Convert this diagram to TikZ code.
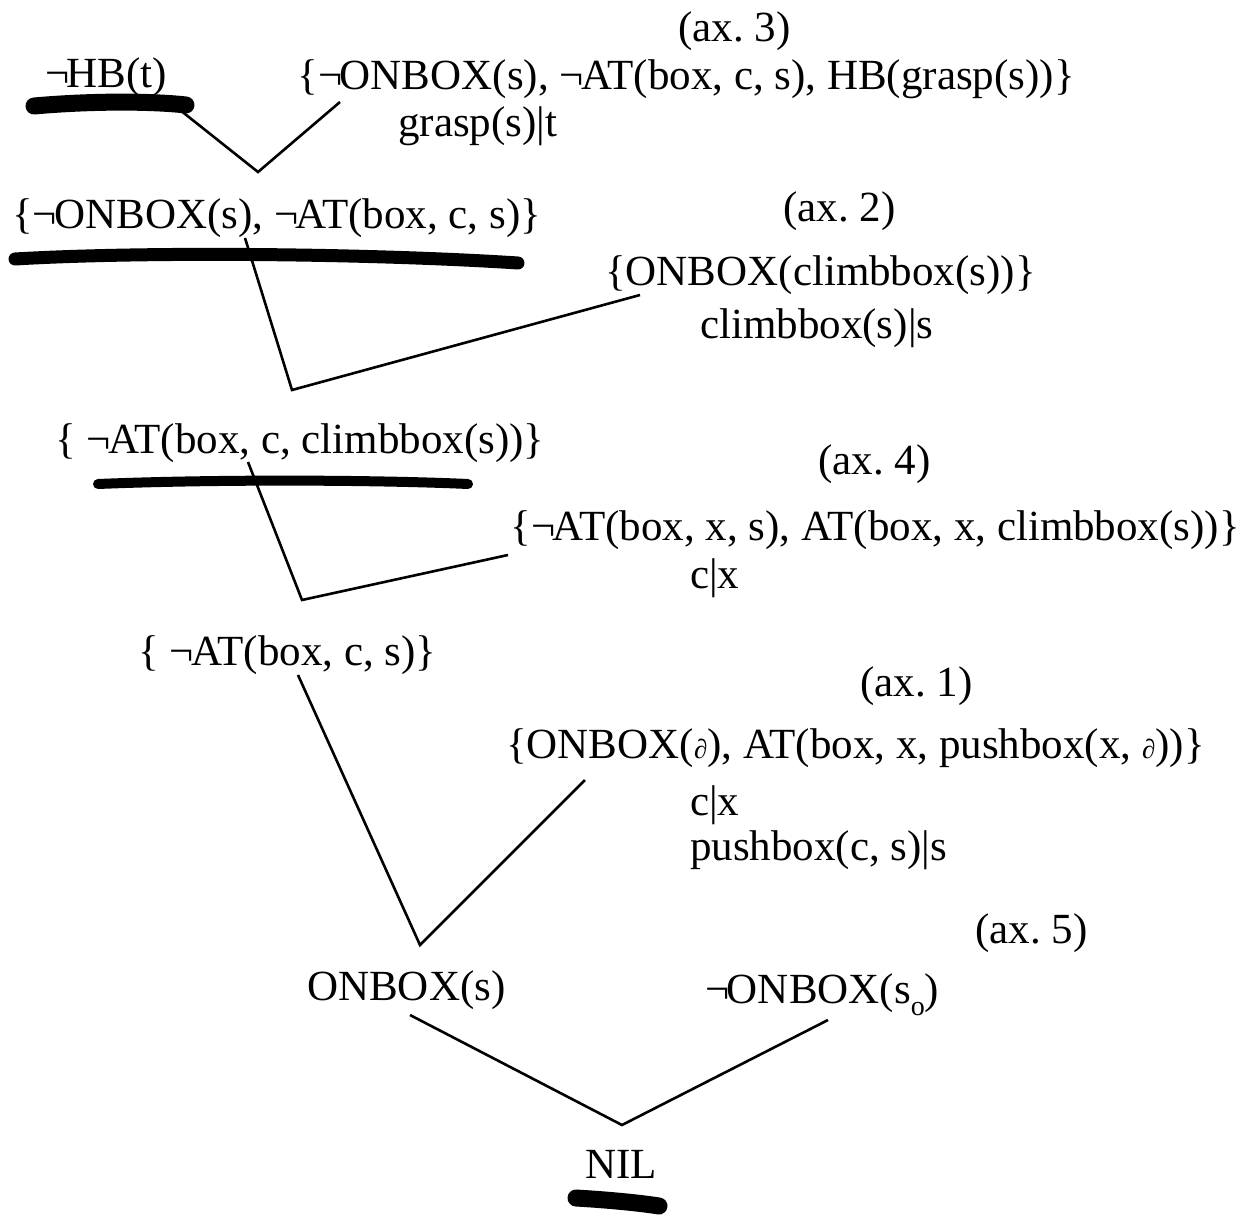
\documentclass[tikz,border=0pt]{standalone}
\usepackage{fontspec}
\setmainfont{Liberation Serif}
\newcommand{\smallpartial}{{\fontsize{27}{28}\selectfont ∂}}
\newcommand{\lowsub}[1]{\raisebox{-0.28em}{\fontsize{28}{28}\selectfont #1}}
\newcommand{\nt}{¬\kern-0.06em}
\begin{document}
\begin{tikzpicture}[x=1pt,y=-1pt,
  lbl/.style={anchor=base west,inner sep=0pt,font=\fontsize{43}{48}\selectfont},
  lble/.style={lbl,anchor=base east},
  conn/.style={line width=2.6pt,line join=miter},
  scrib/.style={line width=#1,line cap=round},
  scrib/.default=12pt]
\useasboundingbox (0,0) rectangle (1254,1215);
% texts
\node[lbl] (ax3) at (678,42) {(ax.\ 3)};
\node[lbl] (hb) at (45,88) {\nt HB(t)};
\node[lble] (c1) at (1075,90) {\{\nt ONBOX(s), \nt AT(box, c, s), HB(grasp(s))\}};
\node[lbl] (s1) at (398,136) {grasp(s)|t};
\node[lbl] (r1) at (12,228) {\{\nt ONBOX(s), \nt AT(box, c, s)\}};
\node[lbl] (ax2) at (783,221) {(ax.\ 2)};
\node[lbl] (c2) at (605,285) {\{ONBOX(climbbox(s))\}};
\node[lbl] (s2) at (700,338) {climbbox(s)|s};
\node[lbl] (r2) at (55,453) {\{ \nt AT(box, c, climbbox(s))\}};
\node[lbl] (ax4) at (818,474) {(ax.\ 4)};
\node[lble] (c4) at (1240,540) {\{\nt AT(box, x, s), AT(box, x, climbbox(s))\}};
\node[lbl] (s4) at (690,588) {c|x};
\node[lbl] (r3) at (138,665) {\{ \nt AT(box, c, s)\}};
\node[lbl] (ax1) at (860,696) {(ax.\ 1)};
\node[lble] (c5) at (1205,758) {\{ONBOX(\smallpartial), AT(box, x, pushbox(x, \smallpartial))\}};
\node[lbl] (s5a) at (690,815) {c|x};
\node[lbl] (s5b) at (690,860) {pushbox(c, s)|s};
\node[lbl] (ax5) at (975,943) {(ax.\ 5)};
\node[lbl] (r4) at (307,1000) {ONBOX(s)};
\node[lbl] (c6) at (705,1003) {\nt ONBOX(s\lowsub{o})};
\node[lbl] (nil) at (585,1178) {NIL};
% scribbles (underlines)
\draw[scrib=17pt] (34,106) .. controls (90,101) and (150,101) .. (186,105);
\draw[scrib=13pt] (15,259) .. controls (150,251) and (380,254) .. (518,263);
\draw[scrib=10pt] (98,484) .. controls (220,479) and (380,480) .. (468,484);
\draw[scrib=17pt] (576,1198) .. controls (610,1200) and (640,1203) .. (659,1206);
% connector points
\coordinate (a1) at (180,110);
\coordinate (v1) at (258,172);
\coordinate (b1) at (340,102);
\coordinate (a2) at (245,238);
\coordinate (v2) at (292,390);
\coordinate (b2) at (640,295);
\coordinate (a3) at (248,462);
\coordinate (v3) at (302,600);
\coordinate (b3) at (508,555);
\coordinate (a4) at (298,675);
\coordinate (v4) at (420,945);
\coordinate (b4) at (585,780);
\coordinate (a5) at (410,1015);
\coordinate (v5) at (622,1125);
\coordinate (b5) at (828,1020);
\draw[conn] (a1) -- (v1) -- (b1);
\draw[conn] (a2) -- (v2) -- (b2);
\draw[conn] (a3) -- (v3) -- (b3);
\draw[conn] (a4) -- (v4) -- (b4);
\draw[conn] (a5) -- (v5) -- (b5);
\end{tikzpicture}
\end{document}
